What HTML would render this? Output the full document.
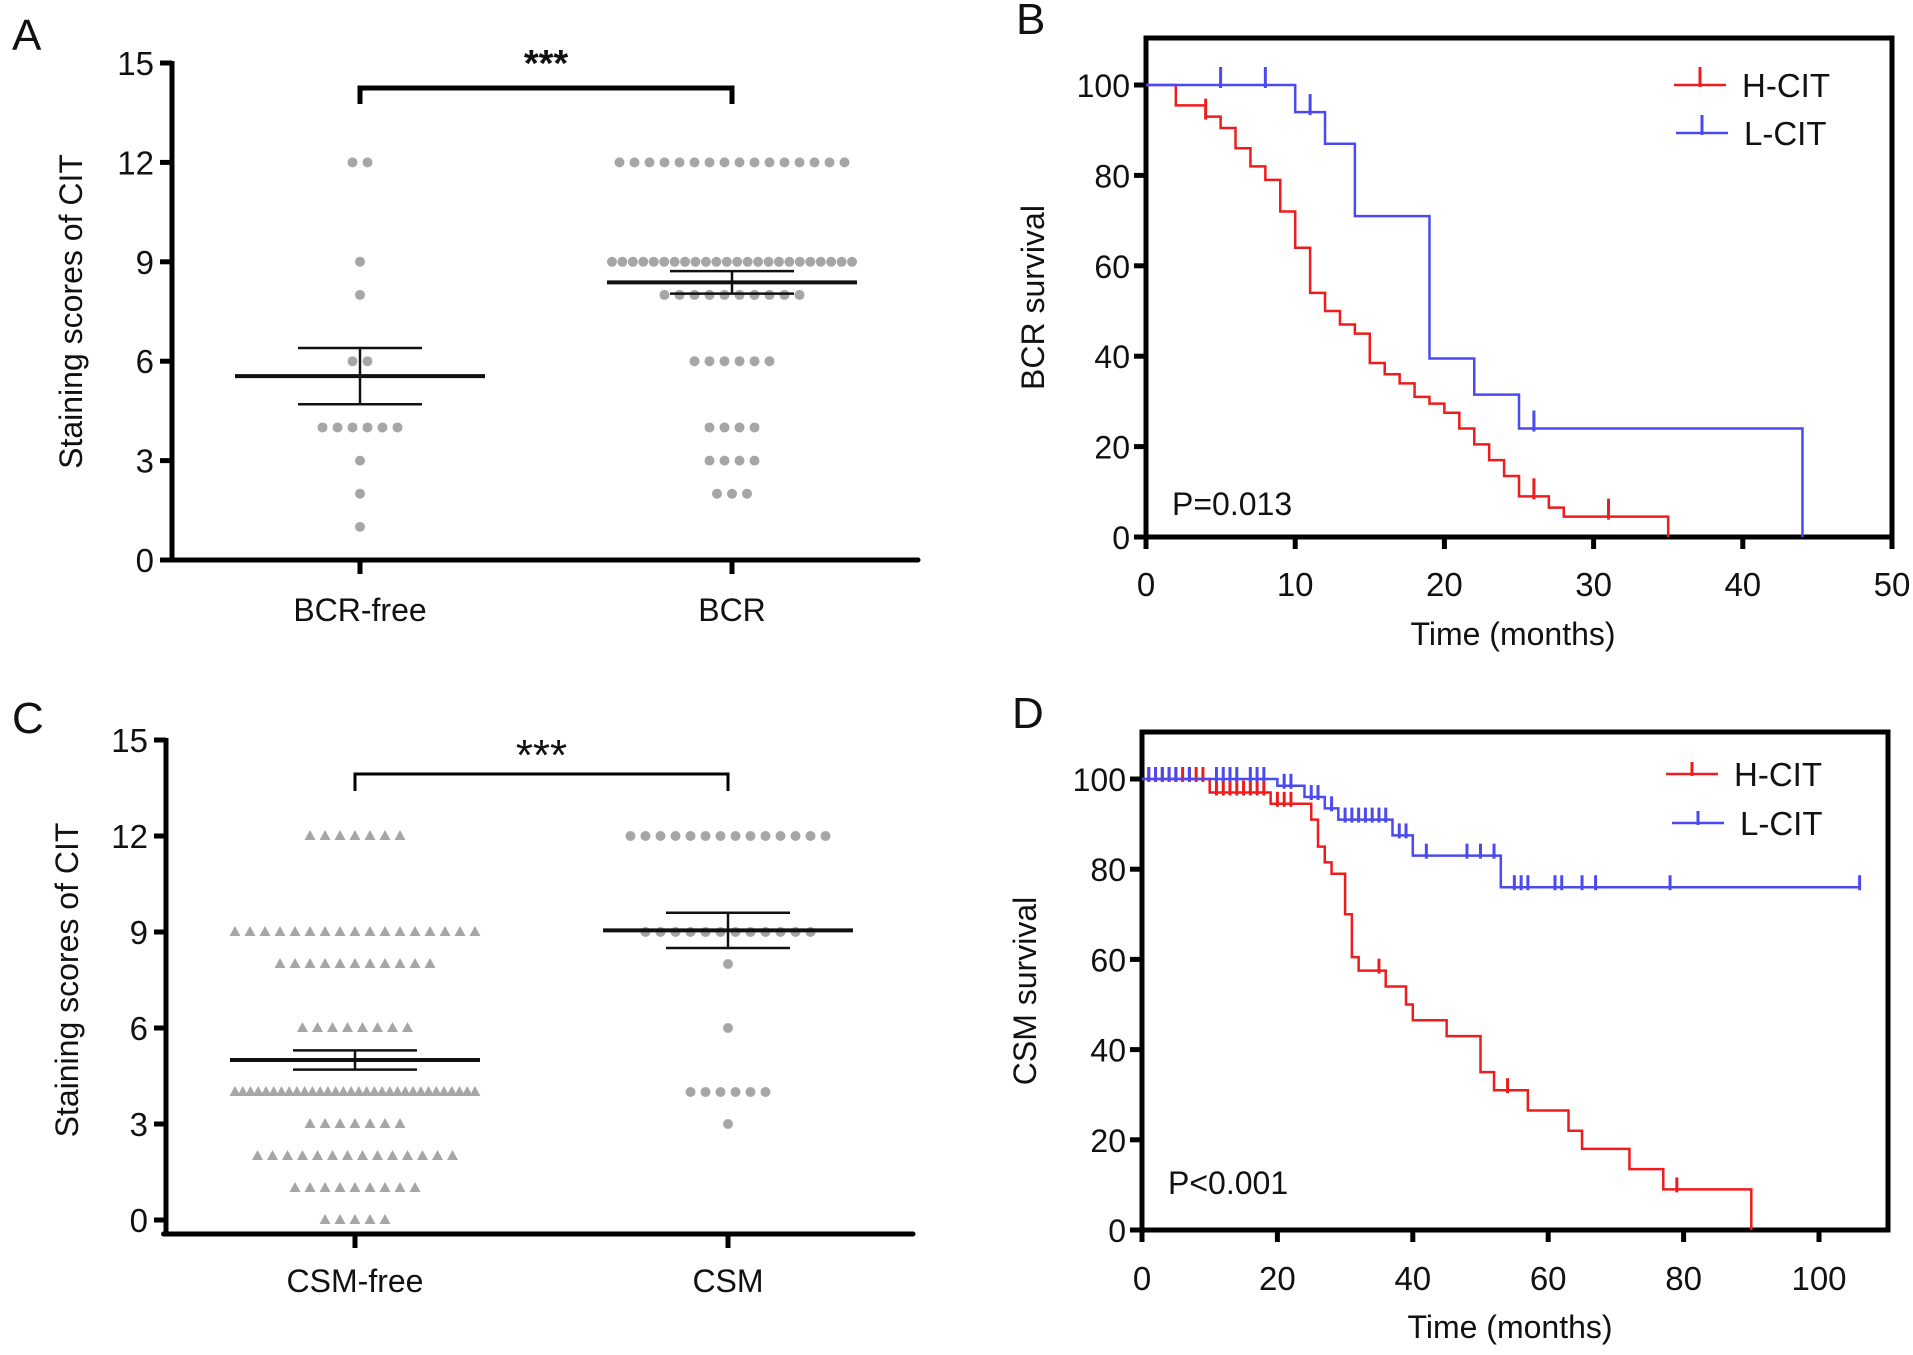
<!DOCTYPE html>
<html><head><meta charset="utf-8"><style>
html,body{margin:0;padding:0;background:#fff;}
svg{display:block;font-family:"Liberation Sans",Arial,sans-serif;}
</style></head><body>
<svg id="fig" width="1913" height="1355" viewBox="0 0 1913 1355" xmlns="http://www.w3.org/2000/svg"></svg>
<script>
// ---- Panel A data ----
const aGroups = ["BCR-free", "BCR"];
const aScores = [12, 9, 8, 6, 4, 3, 2, 1];
const aCountsFree = [2, 1, 1, 2, 6, 1, 1, 1];
const aCountsBcr = [16, 24, 10, 6, 4, 4, 3, 0];
const aMeans = [5.55, 8.38];
const aSem = [0.85, 0.34];
const aTicks = [0, 3, 6, 9, 12, 15];
// ---- Panel C data ----
const cGroups = ["CSM-free", "CSM"];
const cScores = [12, 9, 8, 6, 4, 3, 2, 1, 0];
const cCountsFree = [7, 17, 11, 8, 32, 7, 14, 9, 5];
const cCountsCsm = [14, 12, 1, 1, 6, 1, 0, 0, 0];
const cMeans = [5.0, 9.05];
const cSem = [0.3, 0.55];
const cTicks = [0, 3, 6, 9, 12, 15];
// ---- Panel B data ----
const bHT = [0, 2, 4, 5, 6, 7, 8, 9, 10, 11, 12, 13, 14, 15, 16, 17, 18, 19, 20, 21, 22, 23, 24, 25, 27, 28, 35];
const bHS = [100, 95.5, 93, 90.5, 86, 82, 79, 72, 64, 54, 50, 47, 45, 38.5, 36, 34, 31, 29.5, 27.5, 24, 20.5, 17, 13.5, 9, 6.5, 4.5, 0];
const bHC = [4, 26, 31];
const bLT = [0, 10, 12, 14, 19, 22, 25, 44];
const bLS = [100, 94, 87, 71, 39.5, 31.5, 24, 0];
const bLC = [5, 8, 11, 26];
const bXTicks = [0, 10, 20, 30, 40, 50];
const bYTicks = [0, 20, 40, 60, 80, 100];
// ---- Panel D data ----
const dHT = [0, 10, 19, 25, 26, 27, 28, 30, 31, 32, 36, 39, 40, 45, 50, 52, 57, 63, 65, 72, 77, 90];
const dHS = [100, 97, 94.5, 91, 85, 81.5, 79, 70, 60.5, 57.5, 54, 50, 46.5, 43, 35, 31, 26.5, 22, 18, 13.5, 9, 0];
const dHC = [1, 2, 3, 4, 5, 6, 7, 8, 9, 11, 12, 13, 14, 15, 16, 17, 18, 20, 21, 22, 35, 54, 79];
const dLT = [0, 20, 24, 27, 29, 37, 40, 53];
const dLS = [100, 98.5, 96, 93.5, 91, 87.5, 83, 76];
const dLC = [1, 2, 3, 4, 5, 7, 11, 12, 13, 14, 16, 17, 18, 21, 22, 25, 26, 28, 30, 31, 32, 33, 34, 35, 36, 38, 39, 42, 48, 50, 52, 55, 56, 57, 61, 62, 65, 67, 78, 106];
const dXTicks = [0, 20, 40, 60, 80, 100];
const dYTicks = [0, 20, 40, 60, 80, 100];

const NS = "http://www.w3.org/2000/svg";
const svg = document.getElementById("fig");
function mk(tag, attrs, parent, name) {
  const e = document.createElementNS(NS, tag);
  for (const k in attrs) e.setAttribute(k, attrs[k]);
  
  
  (parent || svg).appendChild(e);
  return e;
}
function txt(s, x, y, size, anchor, parent, name, extra) {
  const t = mk("text", Object.assign({x: x, y: y, "font-size": size, "text-anchor": anchor || "start", fill: "#111"}, extra || {}), parent, name);
  t.textContent = s;
  return t;
}

// ---------- dot plot ----------
function dotPlot(cfg) {
  const g = mk("g", {}, svg, cfg.name);
  const y = v => cfg.y0 + (cfg.y15 - cfg.y0) * v / 15;
  mk("line", {x1: cfg.ax, y1: y(15) - 2, x2: cfg.ax, y2: cfg.xAxisY + 2.5, stroke: "#000", "stroke-width": 5}, g, "y-axis-line");
  mk("line", {x1: cfg.ax - 2.5, y1: cfg.xAxisY, x2: cfg.axEnd, y2: cfg.xAxisY, stroke: "#000", "stroke-width": 5, "stroke-linecap": "round"}, g, "x-axis-line");
  cfg.ticks.forEach(t => {
    mk("line", {x1: cfg.ax - 12, y1: y(t), x2: cfg.ax, y2: y(t), stroke: "#000", "stroke-width": 5}, g, "y-tick");
    txt(String(t), cfg.ax - 18, y(t) + 12, 33, "end", g, "y-tick-label");
  });
  cfg.gx.forEach((gx, i) => {
    mk("line", {x1: gx, y1: cfg.xAxisY, x2: gx, y2: cfg.xAxisY + 14, stroke: "#000", "stroke-width": 5}, g, "x-tick");
    txt(cfg.groups[i], gx, cfg.labelY, 32, "middle", g, "x-category-label");
  });
  const ty = (cfg.y0 + cfg.y15) / 2;
  txt("Staining scores of CIT", cfg.titleX, ty, 32, "middle", g, "y-axis-title", {transform: `rotate(-90 ${cfg.titleX} ${ty})`});
  [cfg.countsA, cfg.countsB].forEach((counts, gi) => {
    const shape = gi === 0 ? cfg.shapeA : cfg.shapeB;
    counts.forEach((n, ri) => {
      if (!n) return;
      const sp = n > 1 ? Math.min(15, 240 / (n - 1)) : 0;
      for (let k = 0; k < n; k++) {
        const px = cfg.gx[gi] + (k - (n - 1) / 2) * sp;
        const py = y(cfg.scores[ri]);
        if (shape === "tri") {
          mk("polygon", {points: `${px},${py - 6} ${px - 5.5},${py + 4} ${px + 5.5},${py + 4}`, fill: "#a6a6a6"}, g, "data-point");
        } else {
          mk("circle", {cx: px, cy: py, r: 5, fill: "#a6a6a6"}, g, "data-point");
        }
      }
    });
  });
  cfg.gx.forEach((gx, i) => {
    const m = cfg.means[i], s = cfg.sem[i];
    mk("line", {x1: gx - 125, y1: y(m), x2: gx + 125, y2: y(m), stroke: "#111", "stroke-width": 4}, g, "mean-line");
    mk("line", {x1: gx - 62, y1: y(m + s), x2: gx + 62, y2: y(m + s), stroke: "#111", "stroke-width": 2.5}, g, "sem-upper-cap");
    mk("line", {x1: gx - 62, y1: y(m - s), x2: gx + 62, y2: y(m - s), stroke: "#111", "stroke-width": 2.5}, g, "sem-lower-cap");
    mk("line", {x1: gx, y1: y(m + s), x2: gx, y2: y(m - s), stroke: "#111", "stroke-width": 2.5}, g, "sem-bar");
  });
  mk("polyline", {points: `${cfg.gx[0]},${cfg.brLeg} ${cfg.gx[0]},${cfg.brY} ${cfg.gx[1]},${cfg.brY} ${cfg.gx[1]},${cfg.brLeg}`, fill: "none", stroke: "#000", "stroke-width": cfg.brW}, g, "significance-bracket");
  txt("***", (cfg.gx[0] + cfg.gx[1]) / 2, cfg.starY, cfg.starSize, "middle", g, "significance-stars", {"font-weight": cfg.starBold ? "bold" : "normal"});
  txt(cfg.letter, cfg.letterX, cfg.letterY, 44, "start", g, "panel-letter");
}

dotPlot({name: "panel-a", ax: 172, axEnd: 918, y0: 560, y15: 63, xAxisY: 560, ticks: aTicks, gx: [360, 732], groups: aGroups,
  labelY: 621, titleX: 82, scores: aScores, countsA: aCountsFree, countsB: aCountsBcr, shapeA: "dot", shapeB: "dot",
  means: aMeans, sem: aSem, brY: 88, brLeg: 104, brW: 5, starY: 76, starSize: 38, starBold: true, letter: "A", letterX: 12, letterY: 50});
dotPlot({name: "panel-c", ax: 166, axEnd: 913, y0: 1220, y15: 740, xAxisY: 1234, ticks: cTicks, gx: [355, 728], groups: cGroups,
  labelY: 1292, titleX: 78, scores: cScores, countsA: cCountsFree, countsB: cCountsCsm, shapeA: "tri", shapeB: "dot",
  means: cMeans, sem: cSem, brY: 774, brLeg: 791, brW: 3, starY: 770, starSize: 44, starBold: false, letter: "C", letterX: 12, letterY: 733});

// ---------- KM plot ----------
function kmPlot(cfg) {
  const g = mk("g", {}, svg, cfg.name);
  const x = t => cfg.x0 + t * cfg.xs;
  const y = v => cfg.y0 + (cfg.y100 - cfg.y0) * v / 100;
  mk("rect", {x: cfg.x0, y: cfg.top, width: cfg.right - cfg.x0, height: cfg.y0 - cfg.top, fill: "none", stroke: "#000", "stroke-width": 5}, g, "plot-frame");
  cfg.yTicks.forEach(t => {
    mk("line", {x1: cfg.x0 - 12, y1: y(t), x2: cfg.x0, y2: y(t), stroke: "#000", "stroke-width": 5}, g, "y-tick");
    txt(String(t), cfg.x0 - 16, y(t) + 12, 32, "end", g, "y-tick-label");
  });
  cfg.xTicks.forEach(t => {
    mk("line", {x1: x(t), y1: cfg.y0, x2: x(t), y2: cfg.y0 + 12, stroke: "#000", "stroke-width": 5}, g, "x-tick");
    txt(String(t), x(t), cfg.tickLabelY, 33, "middle", g, "x-tick-label");
  });
  txt("Time (months)", cfg.titleCX, cfg.titleY, 32, "middle", g, "x-axis-title");
  const cy = (cfg.top + cfg.y0) / 2 + 10;
  txt(cfg.ytitle, cfg.ytitleX, cy, 32, "middle", g, "y-axis-title", {transform: `rotate(-90 ${cfg.ytitleX} ${cy})`});
  txt(cfg.ptext, cfg.x0 + 26, cfg.pY, 32, "start", g, "p-value-label");
  txt(cfg.letter, cfg.x0 - 130, cfg.top - 4, 44, "start", g, "panel-letter");
  function series(T, S, C, color, nm) {
    let d = `M${x(T[0])},${y(S[0])}`;
    for (let i = 1; i < T.length; i++) d += ` H${x(T[i])} V${y(S[i])}`;
    const last = cfg.endT[nm];
    if (last !== undefined) d += ` H${x(last)}`;
    mk("path", {d: d, fill: "none", stroke: color, "stroke-width": 2.5}, g, nm + "-survival-curve");
    C.forEach(t => {
      let s = S[0];
      for (let i = 0; i < T.length; i++) if (T[i] <= t) s = S[i];
      mk("line", {x1: x(t), y1: y(s) + 3, x2: x(t), y2: y(s) - cfg.tick, stroke: color, "stroke-width": 3}, g, nm + "-censor-mark");
    });
  }
  series(cfg.hT, cfg.hS, cfg.hC, "#ee1c1c", "h-cit");
  series(cfg.lT, cfg.lS, cfg.lC, "#4a4af0", "l-cit");
  [["H-CIT", "#ee1c1c", cfg.legY[0], cfg.legX[0]], ["L-CIT", "#4a4af0", cfg.legY[1], cfg.legX[1]]].forEach(([lab, col, ly, lx]) => {
    const lg = mk("g", {}, g, "legend-entry");
    mk("line", {x1: lx, y1: ly, x2: lx + 52, y2: ly, stroke: col, "stroke-width": 2.5}, lg, "legend-swatch");
    mk("line", {x1: lx + 26, y1: ly + 2, x2: lx + 26, y2: ly - cfg.tick, stroke: col, "stroke-width": 3}, lg, "legend-censor-mark");
    txt(lab, lx + 68, ly + 12, 33, "start", lg, "legend-label");
  });
}

kmPlot({name: "panel-b", x0: 1146, right: 1892, top: 38, y0: 537, y100: 85, xs: 14.92, xTicks: bXTicks, yTicks: bYTicks,
  hT: bHT, hS: bHS, hC: bHC, lT: bLT, lS: bLS, lC: bLC, endT: {}, tick: 18,
  tickLabelY: 596, titleCX: 1513, titleY: 645, ytitle: "BCR survival", ytitleX: 1044, ptext: "P=0.013", pY: 515,
  letter: "B", legX: [1674, 1676], legY: [85, 133]});
kmPlot({name: "panel-d", x0: 1142, right: 1888, top: 732, y0: 1230, y100: 779, xs: 6.77, xTicks: dXTicks, yTicks: dYTicks,
  hT: dHT, hS: dHS, hC: dHC, lT: dLT, lS: dLS, lC: dLC, endT: {"l-cit": 106}, tick: 12,
  tickLabelY: 1290, titleCX: 1510, titleY: 1338, ytitle: "CSM survival", ytitleX: 1036, ptext: "P<0.001", pY: 1194,
  letter: "D", legX: [1666, 1672], legY: [774, 823]});
</script>
</body></html>
